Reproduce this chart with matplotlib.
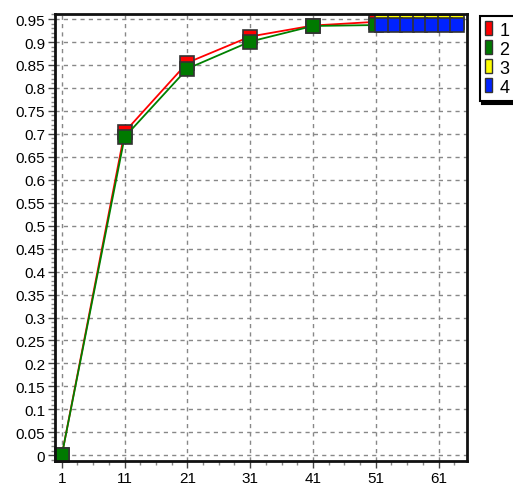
import matplotlib
matplotlib.use("Agg")
import matplotlib.pyplot as plt
from matplotlib.patches import Rectangle
from matplotlib.ticker import MultipleLocator

plt.rcParams["font.family"] = ["Liberation Sans", "DejaVu Sans"]

# data
x_a = [1, 11, 21, 31, 41, 51]
s1 = [0.0, 0.704, 0.855, 0.912, 0.936, 0.944]
s2 = [0.0, 0.693, 0.842, 0.901, 0.935, 0.937]
x_b = [52, 54, 56, 58, 60, 62, 64]
s3 = [0.943, 0.943, 0.943, 0.943, 0.943, 0.943, 0.943]
s4 = [0.937, 0.937, 0.937, 0.937, 0.937, 0.937, 0.937]
labels = ["1", "2", "3", "4"]
colors = ["#ff0000", "#007a00", "#ffff00", "#0022ff"]
line_colors = ["#ff0000", "#008000", "#aaaa00", "#0022ff"]

fig = plt.figure(figsize=(5.13, 4.85), dpi=100)
ax = fig.add_axes([0.107, 0.047, 0.803, 0.922])

series = [(x_a, s1), (x_a, s2), (x_b, s3), (x_b, s4)]
for (xs, ys), c, lc in zip(series, colors, line_colors):
    ax.plot(xs, ys, color=lc, lw=1.3, marker="s", markersize=9.5,
            markerfacecolor=c, markeredgecolor="#333333", markeredgewidth=1.2,
            clip_on=False)

major_x = [1, 11, 21, 31, 41, 51, 61]
ax.set_xticks(major_x)
ax.set_xticks([x + 2.5 * k for x in major_x for k in (1, 2, 3)], minor=True)
ax.set_yticks([i * 0.05 for i in range(20)])
ax.set_yticklabels(["0"] + [f"{i * 0.05:g}" for i in range(1, 20)])
ax.yaxis.set_minor_locator(MultipleLocator(0.01))
ax.set_xlim(-0.1, 65.5)
ax.set_ylim(-0.013, 0.961)

ax.tick_params(which="major", length=5, width=1, labelsize=11, pad=2, color="#444444")
ax.tick_params(which="minor", length=3, width=1, color="#888888")
ax.grid(True, which="major", color="#888888", linestyle=(0, (3, 3)), lw=1)
ax.set_axisbelow(True)
for side in ["left", "bottom", "right", "top"]:
    ax.spines[side].set_linewidth(2)
    ax.spines[side].set_color("#111111")
    ax.spines[side].set_zorder(5)

handles = [Rectangle((0, 0), 1, 1, facecolor=c, edgecolor="#333333", lw=1) for c in colors]
leg = fig.legend(handles, labels, loc="upper left", bbox_to_anchor=(0.935, 0.965),
                 fontsize=13, frameon=True, fancybox=False, shadow={"color": "black", "alpha": 1},
                 handlelength=0.4, handleheight=0.8, handletextpad=0.4,
                 borderpad=0.3, labelspacing=0.1, borderaxespad=0)
leg.get_frame().set_edgecolor("black")
leg.get_frame().set_linewidth(1.5)

fig.savefig("out.png", dpi=100)
